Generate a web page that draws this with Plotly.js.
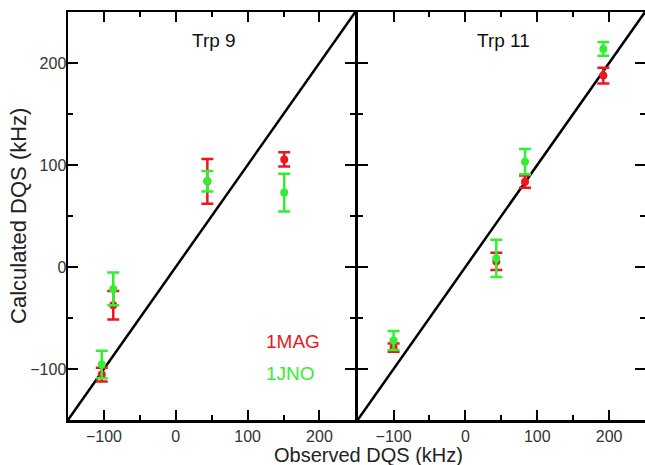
<!DOCTYPE html>
<html>
<head>
<meta charset="utf-8">
<script src="https://cdn.plot.ly/plotly-3.0.1.min.js"></script>
<style>html,body{margin:0;padding:0;background:#fff;}#chart{width:645px;height:465px;}</style>
</head>
<body>
<div id="chart"></div>
<script>
// Trp 9 panel
const x9 = [-103, -87, 44, 151];
const mag9 = [-105.5, -37.5, 84, 105.5];
const magErr9 = [6.7, 14, 22, 7];
const jno9 = [-95.5, -21.5, 84, 73];
const jnoErr9 = [13.5, 16, 10, 18.5];

// Trp 11 panel
const x11 = [-100, 43, 83, 192];
const mag11 = [-79, 5.5, 83.6, 187.7];
const magErr11 = [4, 8.5, 6, 7.7];
const jno11 = [-72, 8.5, 103.3, 213.8];
const jnoErr11 = [9.3, 18.3, 12.3, 6.8];

const diagLine = [-150, 250];
const axisRange = [-150, 250];

const RED = 'rgb(236,22,30)';
const GREEN = 'rgb(52,238,52)';

function errTrace(x, y, err, color, xa, ya) {
  return {
    x: x, y: y, xaxis: xa, yaxis: ya, type: 'scatter', mode: 'markers',
    marker: {color: color, size: 8, symbol: 'circle'},
    error_y: {type: 'data', array: err, visible: true, color: color, thickness: 2.5, width: 6},
    showlegend: false, hoverinfo: 'skip'
  };
}
function diag(xa, ya) {
  return {x: diagLine, y: diagLine, xaxis: xa, yaxis: ya, type: 'scatter', mode: 'lines',
    line: {color: 'black', width: 2.5}, showlegend: false, hoverinfo: 'skip'};
}

const data = [
  diag('x', 'y'),
  errTrace(x9, mag9, magErr9, RED, 'x', 'y'),
  errTrace(x9, jno9, jnoErr9, GREEN, 'x', 'y'),
  diag('x2', 'y2'),
  errTrace(x11, mag11, magErr11, RED, 'x2', 'y2'),
  errTrace(x11, jno11, jnoErr11, GREEN, 'x2', 'y2')
];

const tickFont = {family: 'Liberation Sans, Arial, sans-serif', size: 16, color: '#333'};
function xAxis(domain, anchor) {
  return {
    domain: domain, anchor: anchor, range: axisRange, showgrid: false, zeroline: false,
    showline: true, linecolor: 'black', linewidth: 2.5, mirror: 'ticks',
    ticks: 'inside', ticklen: 10, tickwidth: 2, tickcolor: 'black', dtick: 100, tick0: 0,
    minor: {dtick: 50, ticks: 'inside', ticklen: 5, tickwidth: 2, tickcolor: 'black'},
    tickfont: tickFont, fixedrange: true
  };
}
function yAxis(anchor, labels) {
  return {
    anchor: anchor, range: axisRange, showgrid: false, zeroline: false,
    showline: true, linecolor: 'black', linewidth: 2.5, mirror: 'ticks',
    ticks: 'inside', ticklen: 10, tickwidth: 2, tickcolor: 'black', dtick: 100, tick0: 0,
    minor: {dtick: 50, ticks: 'inside', ticklen: 5, tickwidth: 2, tickcolor: 'black'},
    showticklabels: labels, tickfont: tickFont, ticklabelstandoff: -4, fixedrange: true
  };
}

const layout = {
  width: 645, height: 465,
  margin: {l: 68, r: 0, t: 12, b: 45},
  paper_bgcolor: 'white', plot_bgcolor: 'white',
  font: {family: 'Liberation Sans, Arial, sans-serif', color: '#222'},
  xaxis: xAxis([0, 0.498], 'y'),
  yaxis: yAxis('x', true),
  xaxis2: xAxis([0.502, 1], 'y2'),
  yaxis2: yAxis('x2', false),
  showlegend: false,
  annotations: [
    {text: 'Trp 9', xref: 'x', yref: 'y', x: 53, y: 222, showarrow: false,
      font: {size: 19, color: '#111'}, xanchor: 'center', yanchor: 'middle'},
    {text: 'Trp 11', xref: 'x2', yref: 'y2', x: 53, y: 222, showarrow: false,
      font: {size: 19, color: '#111'}, xanchor: 'center', yanchor: 'middle'},
    {text: '1MAG', xref: 'x', yref: 'y', x: 123, y: -73, showarrow: false,
      font: {size: 19, color: RED}, xanchor: 'left', yanchor: 'middle'},
    {text: '1JNO', xref: 'x', yref: 'y', x: 123, y: -104, showarrow: false,
      font: {size: 19, color: GREEN}, xanchor: 'left', yanchor: 'middle'},
    {text: 'Observed DQS (kHz)', xref: 'paper', yref: 'paper', x: 0.52, y: -0.086,
      showarrow: false, font: {size: 20, color: '#222'}, xanchor: 'center', yanchor: 'middle'},
    {text: 'Calculated DQS (kHz)', xref: 'paper', yref: 'paper', x: -0.0867, y: 0.5,
      textangle: -90, showarrow: false, font: {size: 22, color: '#222'}, xanchor: 'center', yanchor: 'middle'}
  ]
};

Plotly.newPlot('chart', data, layout, {displayModeBar: false, staticPlot: true});
</script>
</body>
</html>
